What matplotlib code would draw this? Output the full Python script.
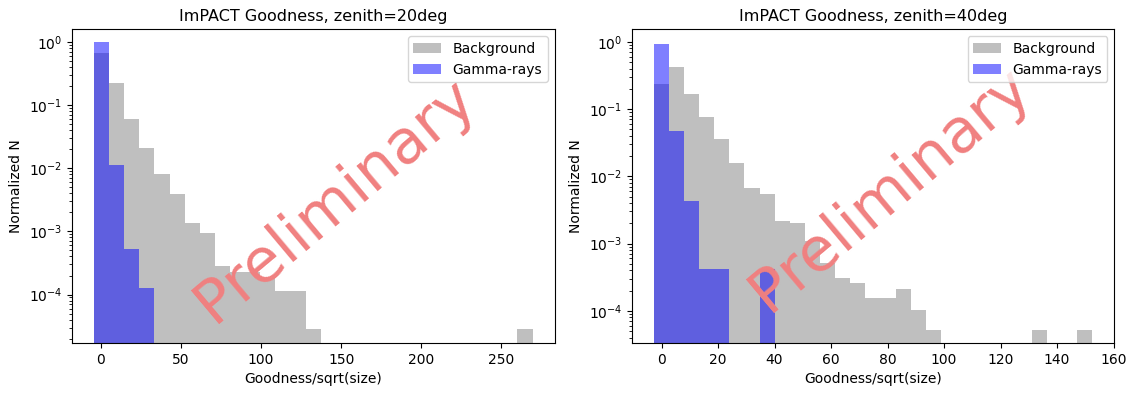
import matplotlib
matplotlib.use("Agg")
import matplotlib.pyplot as plt
import numpy as np

# Histogram contents (normalized counts per bin)
# zenith = 20 deg: 29 bins between -4.3 and 269.4
edges_20 = np.linspace(-4.3, 269.4, 30)
bkg_20 = [0.654, 0.223, 0.0608, 0.0211, 0.00794, 0.00383, 0.00137, 0.00093,
          2.86e-4, 2.29e-4, 2.29e-4, 1.81e-4, 1.12e-4, 1.12e-4, 2.8e-5,
          0, 0, 0, 0, 0, 0, 0, 0, 0, 0, 0, 0, 0, 2.8e-5]
gamma_20 = [0.977, 0.0113, 5.18e-4, 1.29e-4] + [0] * 25

# zenith = 40 deg: 29 bins between -2.8 and 152.5
edges_40 = np.linspace(-2.8, 152.5, 30)
bkg_40 = [0.233, 0.426, 0.168, 0.0774, 0.0361, 0.0158, 0.00671, 0.00541,
          0.0022, 0.00204, 0.00109, 5.2e-4, 3.12e-4, 2.6e-4, 1.56e-4, 1.56e-4,
          2.08e-4, 1.04e-4, 5.2e-5, 0, 0, 0, 0, 0, 0, 5.2e-5, 0, 0, 5.2e-5]
gamma_40 = [0.913, 0.0475, 0.00431, 4.24e-4, 4.24e-4, 0, 0, 4.24e-4] + [0] * 21

panels = [
    ("ImPACT Goodness, zenith=20deg", edges_20, bkg_20, gamma_20, (1.7e-5, 1.58), (0.546, 0.455)),
    ("ImPACT Goodness, zenith=40deg", edges_40, bkg_40, gamma_40, (3.3e-5, 1.54), (0.536, 0.49)),
]

fig, axes = plt.subplots(1, 2, figsize=(11.37, 3.94), dpi=100)
fig.subplots_adjust(left=0.0633, right=0.98, top=0.926, bottom=0.129, wspace=0.16)

for ax, (title, edges, bkg, gamma, ylim, wm_pos) in zip(axes, panels):
    centers = 0.5 * (edges[:-1] + edges[1:])
    ax.hist(centers, bins=edges, weights=bkg, color="gray", alpha=0.5,
            label="Background", log=True)
    ax.hist(centers, bins=edges, weights=gamma, color="blue", alpha=0.5,
            label="Gamma-rays", log=True)
    ax.set_ylim(*ylim)
    ax.set_title(title, fontsize=11.5)
    ax.set_xlabel("Goodness/sqrt(size)")
    ax.set_ylabel("Normalized N")
    ax.legend(loc="upper right")
    ax.text(wm_pos[0], wm_pos[1], "Preliminary", transform=ax.transAxes,
            rotation=40, fontsize=44, color="#f08080", ha="center", va="center")

fig.savefig("out.png")
